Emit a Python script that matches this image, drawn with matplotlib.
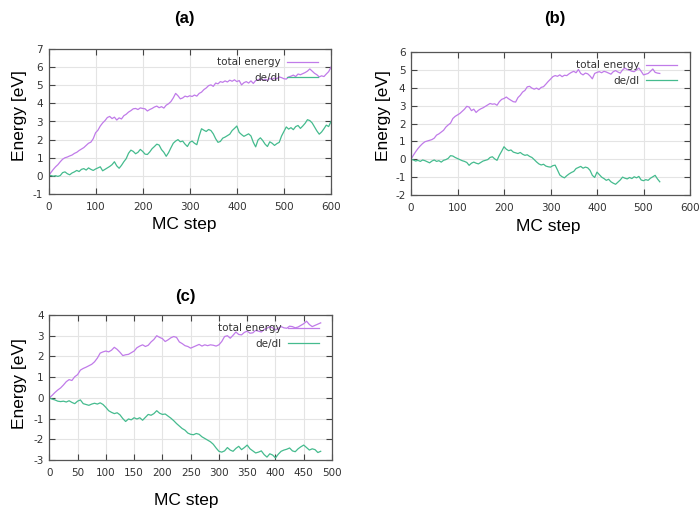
import numpy as np
import matplotlib
matplotlib.use("Agg")
import matplotlib.pyplot as plt

plt.rcParams['axes.unicode_minus'] = False

# panel (a): steps 0..600 every 5
steps_a = np.arange(0, 601, 5)
total_a = [
    0.00, 0.18, 0.35, 0.50, 0.62, 0.78, 0.92, 1.00, 1.04, 1.10,
    1.15, 1.24, 1.30, 1.40, 1.48, 1.56, 1.68, 1.80, 1.86, 2.05,
    2.38, 2.52, 2.75, 2.92, 3.05, 3.22, 3.28, 3.16, 3.24, 3.08,
    3.20, 3.14, 3.32, 3.40, 3.52, 3.60, 3.70, 3.72, 3.66, 3.75,
    3.72, 3.70, 3.58, 3.66, 3.72, 3.80, 3.85, 3.76, 3.82, 3.74,
    3.90, 3.98, 4.10, 4.30, 4.55, 4.42, 4.25, 4.30, 4.40, 4.36,
    4.42, 4.38, 4.46, 4.40, 4.55, 4.62, 4.76, 4.85, 4.98, 5.02,
    4.94, 5.12, 5.08, 5.20, 5.16, 5.24, 5.18, 5.28, 5.22, 5.30,
    5.20, 5.26, 5.02, 5.14, 5.20, 5.12, 5.24, 5.10, 5.26, 5.30,
    5.36, 5.28, 5.34, 5.26, 5.38, 5.32, 5.40, 5.36, 5.46, 5.42,
    5.36, 5.34, 5.46, 5.50, 5.56, 5.48, 5.62, 5.58, 5.64, 5.70,
    5.78, 5.90, 5.78, 5.66, 5.58, 5.46, 5.52, 5.48, 5.62, 5.75,
    6.00]
dedl_a = [
    0.00, 0.02, -0.02, 0.01, -0.03, 0.02, 0.18, 0.22, 0.12, 0.06,
    0.16, 0.22, 0.30, 0.24, 0.36, 0.40, 0.32, 0.44, 0.36, 0.30,
    0.38, 0.44, 0.50, 0.28, 0.36, 0.44, 0.52, 0.62, 0.78, 0.55,
    0.42, 0.58, 0.78, 0.95, 1.25, 1.42, 1.35, 1.22, 1.30, 1.46,
    1.35, 1.20, 1.18, 1.32, 1.50, 1.62, 1.75, 1.70, 1.45, 1.30,
    1.08, 1.28, 1.55, 1.80, 1.92, 2.00, 1.88, 1.92, 1.75, 1.62,
    1.85, 1.92, 1.80, 1.72, 2.20, 2.60, 2.52, 2.45, 2.56, 2.50,
    2.32, 2.05, 1.85, 1.90, 2.08, 2.14, 2.22, 2.30, 2.50, 2.62,
    2.75, 2.40, 2.28, 2.18, 2.25, 2.32, 2.20, 1.85, 1.60, 1.98,
    2.10, 1.95, 1.75, 1.62, 1.88, 1.80, 1.68, 1.78, 1.85, 2.20,
    2.45, 2.70, 2.58, 2.66, 2.55, 2.72, 2.78, 2.62, 2.75, 2.90,
    3.10, 3.05, 2.92, 2.70, 2.48, 2.30, 2.42, 2.60, 2.80, 2.72,
    3.00]

# panel (b): steps 0..535 every 5
steps_b = np.arange(0, 536, 5)
total_b = [
    0.00, 0.22, 0.42, 0.60, 0.75, 0.88, 0.98, 1.02, 1.06, 1.10,
    1.18, 1.35, 1.42, 1.52, 1.62, 1.80, 1.92, 2.02, 2.28, 2.40,
    2.48, 2.56, 2.68, 2.80, 2.96, 2.92, 2.72, 2.80, 2.62, 2.74,
    2.82, 2.88, 2.96, 3.04, 3.12, 3.08, 3.10, 3.02, 3.22, 3.35,
    3.40, 3.48, 3.38, 3.30, 3.22, 3.20, 3.45, 3.58, 3.76, 3.85,
    4.05, 4.08, 3.98, 3.92, 3.98, 3.90, 4.02, 4.06, 4.20, 4.35,
    4.48, 4.62, 4.68, 4.64, 4.72, 4.62, 4.70, 4.68, 4.78, 4.86,
    4.92, 4.84, 5.02, 4.80, 4.72, 4.82, 4.78, 4.66, 4.50, 4.80,
    4.86, 4.90, 4.84, 4.92, 4.88, 4.82, 4.76, 4.90, 4.96, 4.88,
    4.82, 5.00, 5.10, 5.02, 4.98, 4.92, 4.90, 5.00, 5.10, 4.92,
    4.72, 4.76, 4.80, 4.92, 5.05, 4.86, 4.82, 4.80]
dedl_b = [
    0.00, -0.04, -0.10, -0.06, -0.12, -0.04, -0.08, -0.14, -0.20, -0.10,
    -0.04, -0.12, -0.08, -0.16, -0.06, -0.02, 0.05, 0.20, 0.18, 0.10,
    0.04, -0.02, -0.08, -0.12, -0.18, -0.34, -0.22, -0.16, -0.22, -0.26,
    -0.18, -0.10, -0.06, -0.02, 0.10, 0.14, 0.02, -0.06, 0.22, 0.45,
    0.70, 0.56, 0.48, 0.52, 0.40, 0.36, 0.32, 0.38, 0.28, 0.22,
    0.25, 0.16, 0.10, -0.02, -0.15, -0.26, -0.32, -0.28, -0.38, -0.42,
    -0.44, -0.36, -0.33, -0.60, -0.88, -0.98, -1.04, -0.92, -0.82, -0.74,
    -0.68, -0.52, -0.46, -0.40, -0.50, -0.44, -0.48, -0.62, -0.90, -1.02,
    -0.72, -0.86, -1.00, -1.08, -1.18, -1.12, -1.26, -1.34, -1.40, -1.28,
    -1.16, -1.00, -1.06, -1.10, -1.02, -1.08, -0.98, -1.04, -0.96, -1.16,
    -1.20, -1.14, -1.18, -1.06, -0.98, -0.90, -1.10, -1.26]

# panel (c): steps 0..480 every 5
steps_c = np.arange(0, 481, 5)
total_c = [
    0.00, 0.12, 0.26, 0.38, 0.48, 0.62, 0.78, 0.88, 0.84, 1.02,
    1.12, 1.34, 1.42, 1.48, 1.55, 1.62, 1.74, 1.92, 2.16, 2.22,
    2.26, 2.22, 2.30, 2.44, 2.34, 2.20, 2.04, 2.08, 2.10, 2.18,
    2.26, 2.42, 2.50, 2.56, 2.48, 2.54, 2.70, 2.82, 3.00, 2.92,
    2.86, 2.72, 2.80, 2.90, 2.96, 2.92, 2.70, 2.62, 2.52, 2.48,
    2.40, 2.46, 2.52, 2.58, 2.50, 2.56, 2.52, 2.56, 2.54, 2.50,
    2.56, 2.72, 2.96, 3.00, 2.88, 3.02, 3.18, 3.06, 3.04, 3.16,
    3.22, 3.12, 3.14, 3.26, 3.22, 3.18, 3.30, 3.36, 3.44, 3.38,
    3.28, 3.36, 3.44, 3.38, 3.36, 3.46, 3.44, 3.38, 3.42, 3.50,
    3.58, 3.70, 3.54, 3.44, 3.50, 3.56, 3.62]
dedl_c = [
    0.00, -0.06, -0.10, -0.16, -0.18, -0.16, -0.20, -0.14, -0.22, -0.28,
    -0.16, -0.10, -0.28, -0.32, -0.36, -0.30, -0.26, -0.30, -0.24, -0.32,
    -0.46, -0.62, -0.70, -0.76, -0.72, -0.82, -1.00, -1.14, -1.02, -1.06,
    -0.96, -1.02, -0.96, -1.08, -0.94, -0.80, -0.84, -0.76, -0.62, -0.74,
    -0.80, -0.78, -0.88, -0.98, -1.10, -1.24, -1.36, -1.48, -1.56, -1.70,
    -1.76, -1.78, -1.72, -1.76, -1.88, -1.96, -2.04, -2.12, -2.24, -2.42,
    -2.58, -2.62, -2.56, -2.40, -2.52, -2.58, -2.44, -2.34, -2.50, -2.40,
    -2.28, -2.46, -2.56, -2.66, -2.62, -2.56, -2.74, -2.86, -2.70, -2.76,
    -2.90, -2.72, -2.58, -2.52, -2.48, -2.42, -2.56, -2.60, -2.46, -2.36,
    -2.28, -2.40, -2.52, -2.46, -2.50, -2.64, -2.58]

purple = '#c07be9'
green = '#45bb8e'
W, H = 699, 509

fig = plt.figure(figsize=(W / 100, H / 100), dpi=100)


def px_axes(left, top, right, bottom):
    return fig.add_axes([left / W, 1 - bottom / H, (right - left) / W, (bottom - top) / H])


def style(ax, xlim, xticks, ylim, yticks):
    ax.set_xlim(*xlim)
    ax.set_ylim(*ylim)
    ax.set_xticks(xticks)
    ax.set_yticks(yticks)
    ax.grid(True, color='#e4e4e4', lw=0.8)
    ax.set_axisbelow(True)
    ax.tick_params(direction='in', top=True, right=True, length=4, width=0.8,
                   labelsize=7.5, colors='#444444', labelcolor='#333333')
    ax.tick_params(axis='x', pad=6)
    ax.tick_params(axis='y', pad=4)
    for sp in ax.spines.values():
        sp.set_color('#555555')
        sp.set_linewidth(0.9)


def draw(ax, x, tot, de, wpx, hpx):
    ax.plot(x, tot, color=purple, lw=0.9, label='total energy')
    ax.plot(x, de, color=green, lw=0.9, label='de/dl')
    leg = ax.legend(loc='upper right', frameon=False, markerfirst=False,
                    fontsize=7.5, handlelength=3.0, handletextpad=0.55,
                    labelspacing=0.55, borderaxespad=0,
                    bbox_to_anchor=(1 - 9 / wpx, 1 - 4 / hpx))
    for t in leg.get_texts():
        t.set_color('#333333')


ax_a = px_axes(48.5, 49, 331, 194)
draw(ax_a, steps_a, total_a, dedl_a, 282.5, 145)
style(ax_a, (0, 600), range(0, 601, 100), (-1, 7), range(-1, 8))

ax_b = px_axes(411, 52, 690, 195)
draw(ax_b, steps_b, total_b, dedl_b, 279, 143)
style(ax_b, (0, 600), range(0, 601, 100), (-2, 6), range(-2, 7))

ax_c = px_axes(49.3, 315, 332, 460)
draw(ax_c, steps_c, total_c, dedl_c, 282.7, 145)
style(ax_c, (0, 500), range(0, 501, 50), (-3, 4), range(-3, 5))

lab = dict(family=['Liberation Sans', 'DejaVu Sans'], color='black')
for txt, x, y in [('(a)', 184, 18), ('(b)', 555, 18), ('(c)', 185, 297)]:
    fig.text(x / W, 1 - y / H, txt, ha='center', va='center', fontsize=12,
             fontweight='bold', **lab)
for x, y in [(184, 225), (548, 226), (186, 500)]:
    fig.text(x / W, 1 - y / H, 'MC step', ha='center', va='center', fontsize=12.5, **lab)
for x, y in [(20, 116), (383, 116), (20, 384)]:
    fig.text(x / W, 1 - y / H, 'Energy [eV]', ha='center', va='center',
             rotation=90, fontsize=12.5, **lab)

fig.savefig('out.png', dpi=100)
